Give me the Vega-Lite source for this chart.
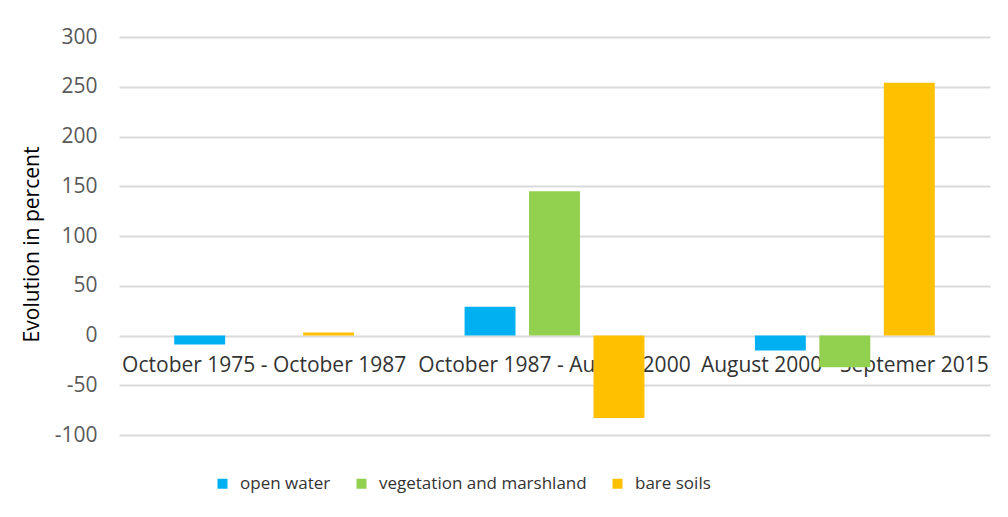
{
  "$schema": "https://vega.github.io/schema/vega-lite/v6.json",
  "autosize": {"type": "none"},
  "width": 871,
  "height": 398,
  "padding": {"left": 119, "top": 37, "right": 18, "bottom": 82},
  "background": "white",
  "config": {
    "view": {"stroke": null},
    "font": "Open Sans"
  },
  "data": {
    "values": [
      {"period": "October 1975 - October 1987", "type": "open water", "value": -9},
      {"period": "October 1975 - October 1987", "type": "vegetation and marshland", "value": 0},
      {"period": "October 1975 - October 1987", "type": "bare soils", "value": 3},
      {"period": "October 1987 - August 2000", "type": "open water", "value": 29},
      {"period": "October 1987 - August 2000", "type": "vegetation and marshland", "value": 145},
      {"period": "October 1987 - August 2000", "type": "bare soils", "value": -83},
      {"period": "August 2000 - Septemer 2015", "type": "open water", "value": -15},
      {"period": "August 2000 - Septemer 2015", "type": "vegetation and marshland", "value": -32},
      {"period": "August 2000 - Septemer 2015", "type": "bare soils", "value": 254}
    ]
  },
  "mark": {"type": "bar"},
  "encoding": {
    "x": {
      "field": "period",
      "type": "nominal",
      "sort": null,
      "scale": {"paddingInner": 0, "paddingOuter": 0},
      "axis": {
        "title": null,
        "labelAngle": 0,
        "ticks": false,
        "domain": false,
        "offset": -100,
        "labelPadding": 19,
        "labelFontSize": 21,
        "labelLimit": 0,
        "labelColor": "#333333",
        "labelFont": "Open Sans"
      }
    },
    "xOffset": {
      "field": "type",
      "type": "nominal",
      "sort": ["open water", "vegetation and marshland", "bare soils"],
      "scale": {"paddingInner": 0.21, "paddingOuter": 0.857}
    },
    "y": {
      "field": "value",
      "type": "quantitative",
      "scale": {"domain": [-100, 300], "nice": false},
      "axis": {
        "title": "Evolution in percent",
        "titleFontSize": 21,
        "titleFontWeight": "normal",
        "titleColor": "#000000",
        "titlePadding": 12,
        "titleY": 207,
        "values": [-100, -50, 0, 50, 100, 150, 200, 250, 300],
        "labelExpr": "'' + datum.value",
        "ticks": false,
        "domain": false,
        "labelPadding": 22,
        "labelFontSize": 21,
        "labelColor": "#595959",
        "gridColor": "#d9d9d9",
        "gridWidth": 2
      }
    },
    "color": {
      "field": "type",
      "type": "nominal",
      "sort": ["open water", "vegetation and marshland", "bare soils"],
      "scale": {
        "domain": ["open water", "vegetation and marshland", "bare soils"],
        "range": ["#00B0F0", "#92D050", "#FFC000"]
      },
      "legend": {
        "title": null,
        "orient": "none",
        "direction": "horizontal",
        "legendX": 95,
        "legendY": 438,
        "symbolType": "square",
        "symbolSize": 100,
        "symbolStrokeWidth": 0,
        "labelFontSize": 17,
        "labelLimit": 0,
        "labelColor": "#333333",
        "labelOffset": 9,
        "columnPadding": 22
      }
    }
  }
}
